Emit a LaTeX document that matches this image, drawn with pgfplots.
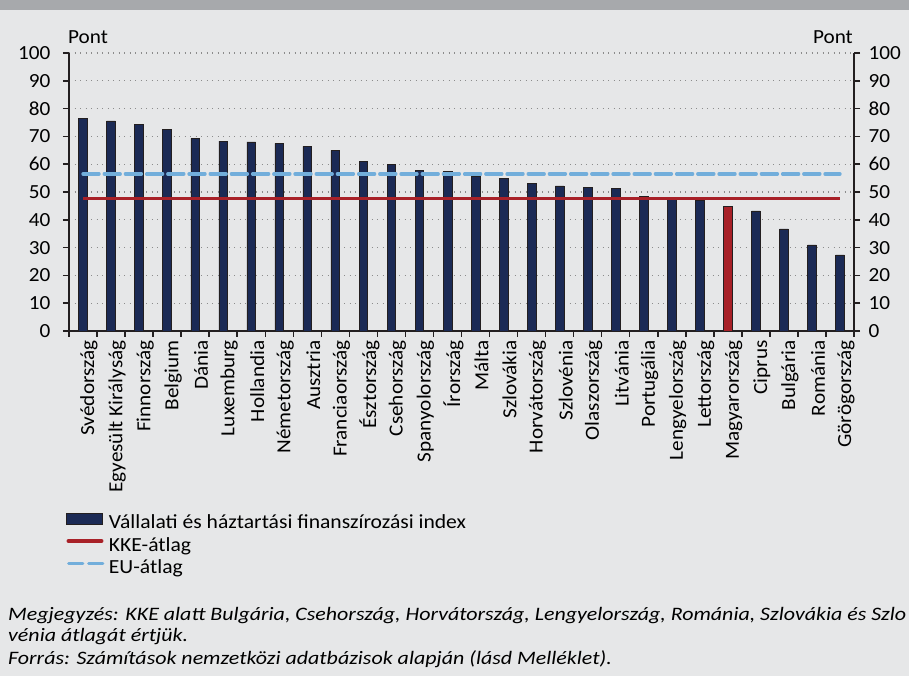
\documentclass[border=0pt]{standalone}
\usepackage{fontspec}
\setmainfont{Carlito}[FakeStretch=1.06]
\newfontfamily\legfont{Carlito}[FakeStretch=1.08]
\newfontfamily\notefont{Carlito}[FakeStretch=1.155]
\usepackage{pgfplots}
\pgfplotsset{compat=1.18}
\definecolor{bg}{HTML}{E6E7E8}
\definecolor{band}{HTML}{A7A9AC}
\definecolor{navy}{HTML}{1B2A55}
\definecolor{kred}{HTML}{A82128}
\definecolor{eublue}{HTML}{72AEDB}
\definecolor{axcol}{HTML}{231F20}
\definecolor{gridc}{HTML}{8C8C8C}
\begin{document}
\begin{tikzpicture}
\useasboundingbox (0,0) rectangle (909bp,676bp);
\fill[bg] (0,0) rectangle (909bp,676bp);
\fill[band] (0,666bp) rectangle (909bp,676bp);
\begin{axis}[
  at={(69bp,345bp)}, anchor=south west,
  scale only axis, width=785bp, height=278bp,
  xmin=-0.5, xmax=27.5, ymin=0, ymax=100,
  axis x line*=bottom, axis y line*=left,
  axis line style={axcol, line width=1.8bp},
  ytick={0,10,...,100},
  xtick={0,...,27},
  xticklabels={Svédország,Egyesült Királyság,Finnország,Belgium,Dánia,Luxemburg,Hollandia,Németország,Ausztria,Franciaország,Észtország,Csehország,Spanyolország,Írország,Málta,Szlovákia,Horvátország,Szlovénia,Olaszország,Litvánia,Portugália,Lengyelország,Lettország,Magyarország,Ciprus,Bulgária,Románia,Görögország},
  minor xtick={-0.5,0.5,...,27.5},
  major x tick style={draw=none},
  minor x tick style={axcol, line width=1.5bp},
  y tick style={axcol, line width=1.5bp},
  tick align=outside,
  major tick length=6bp, minor tick length=6bp,
  ymajorgrids,
  major grid style={gridc, line width=1.1bp, dash pattern=on 1.2bp off 4.3bp},
  xticklabel style={rotate=90, anchor=east, font=\fontsize{20bp}{22bp}\selectfont, yshift=-6bp},
  yticklabel style={font=\fontsize{20bp}{22bp}\selectfont, xshift=-9bp},
  /pgf/number format/assume math mode=true,
  legend cell align=left,
  legend style={draw=none, fill=none, at={(-0.0035,-0.651)}, anchor=north west,
    inner sep=0pt, row sep=0pt,
    font=\legfont\fontsize{20bp}{22bp}\selectfont,
    nodes={inner ysep=1bp, inner xsep=4.5bp, text height=15.5bp, text depth=5bp}},
]
\addplot[ybar, bar shift=0pt, bar width=8.7bp, fill=navy, draw=axcol, line width=0.6bp,
  legend image code/.code={\draw[fill=navy, draw=axcol, line width=0.6bp] (0bp,-0.5bp) rectangle (36bp,10.5bp);}]
  coordinates {(0,76.5) (1,75.6) (2,74.4) (3,72.4) (4,69.3) (5,68.3) (6,68.0) (7,67.5) (8,66.4) (9,65.0) (10,61.0) (11,59.8) (12,57.8) (13,57.4) (14,55.8) (15,54.9) (16,53.0) (17,52.2) (18,51.7) (19,51.2) (20,48.3) (21,47.8) (22,46.9) (24,43.2) (25,36.7) (26,31.0) (27,27.4)};
\addlegendentry{Vállalati és háztartási finanszírozási index}
\addplot[ybar, bar shift=0pt, bar width=8.7bp, fill=kred, draw=axcol, line width=0.6bp, forget plot]
  coordinates {(23,44.8)};
\addplot[kred, line width=3.4bp,
  legend image code/.code={\draw[kred, line width=3.4bp, line cap=round] (1.5bp,5bp) -- (35bp,5bp);}]
  coordinates {(0,47.7) (27,47.7)};
\addlegendentry{KKE-átlag}
\addplot[eublue, line width=3.4bp, line cap=round, dash pattern=on 16bp off 5.2bp,
  legend image code/.code={\draw[eublue, line width=3.4bp, line cap=round, dash pattern=on 14bp off 6bp] (2bp,5bp) -- (36bp,5bp);}]
  coordinates {(0,56.5) (27,56.5)};
\addlegendentry{EU-átlag}
\end{axis}
\begin{axis}[
  at={(69bp,345bp)}, anchor=south west,
  scale only axis, width=785bp, height=278bp,
  xmin=-0.5, xmax=27.5, ymin=0, ymax=100,
  axis x line=none, axis y line*=right,
  axis line style={axcol, line width=1.8bp},
  ytick={0,10,...,100},
  y tick style={axcol, line width=1.5bp},
  tick align=outside, major tick length=6bp,
  yticklabel style={font=\fontsize{20bp}{22bp}\selectfont, xshift=5bp},
  /pgf/number format/assume math mode=true,
]
\addplot[draw=none, forget plot] coordinates {(0,0)};
\end{axis}
\node[anchor=base west, inner sep=0pt, font=\fontsize{20bp}{22bp}\selectfont] at (68bp,632bp) {Pont};
\node[anchor=base east, inner sep=0pt, font=\fontsize{20bp}{22bp}\selectfont] at (853bp,632bp) {Pont};
\begin{scope}[every node/.style={anchor=base west, inner sep=0pt, font=\notefont\fontsize{19bp}{22bp}\selectfont\itshape}]
\node at (8bp,55bp) {Megjegyzés: KKE alatt Bulgária, Csehország, Horvátország, Lengyelország, Románia, Szlovákia és Szlo};
\node at (8bp,35bp) {vénia átlagát értjük.};
\node at (8bp,12bp) {Forrás: Számítások nemzetközi adatbázisok alapján (lásd Melléklet).};
\end{scope}
\end{tikzpicture}
\end{document}
